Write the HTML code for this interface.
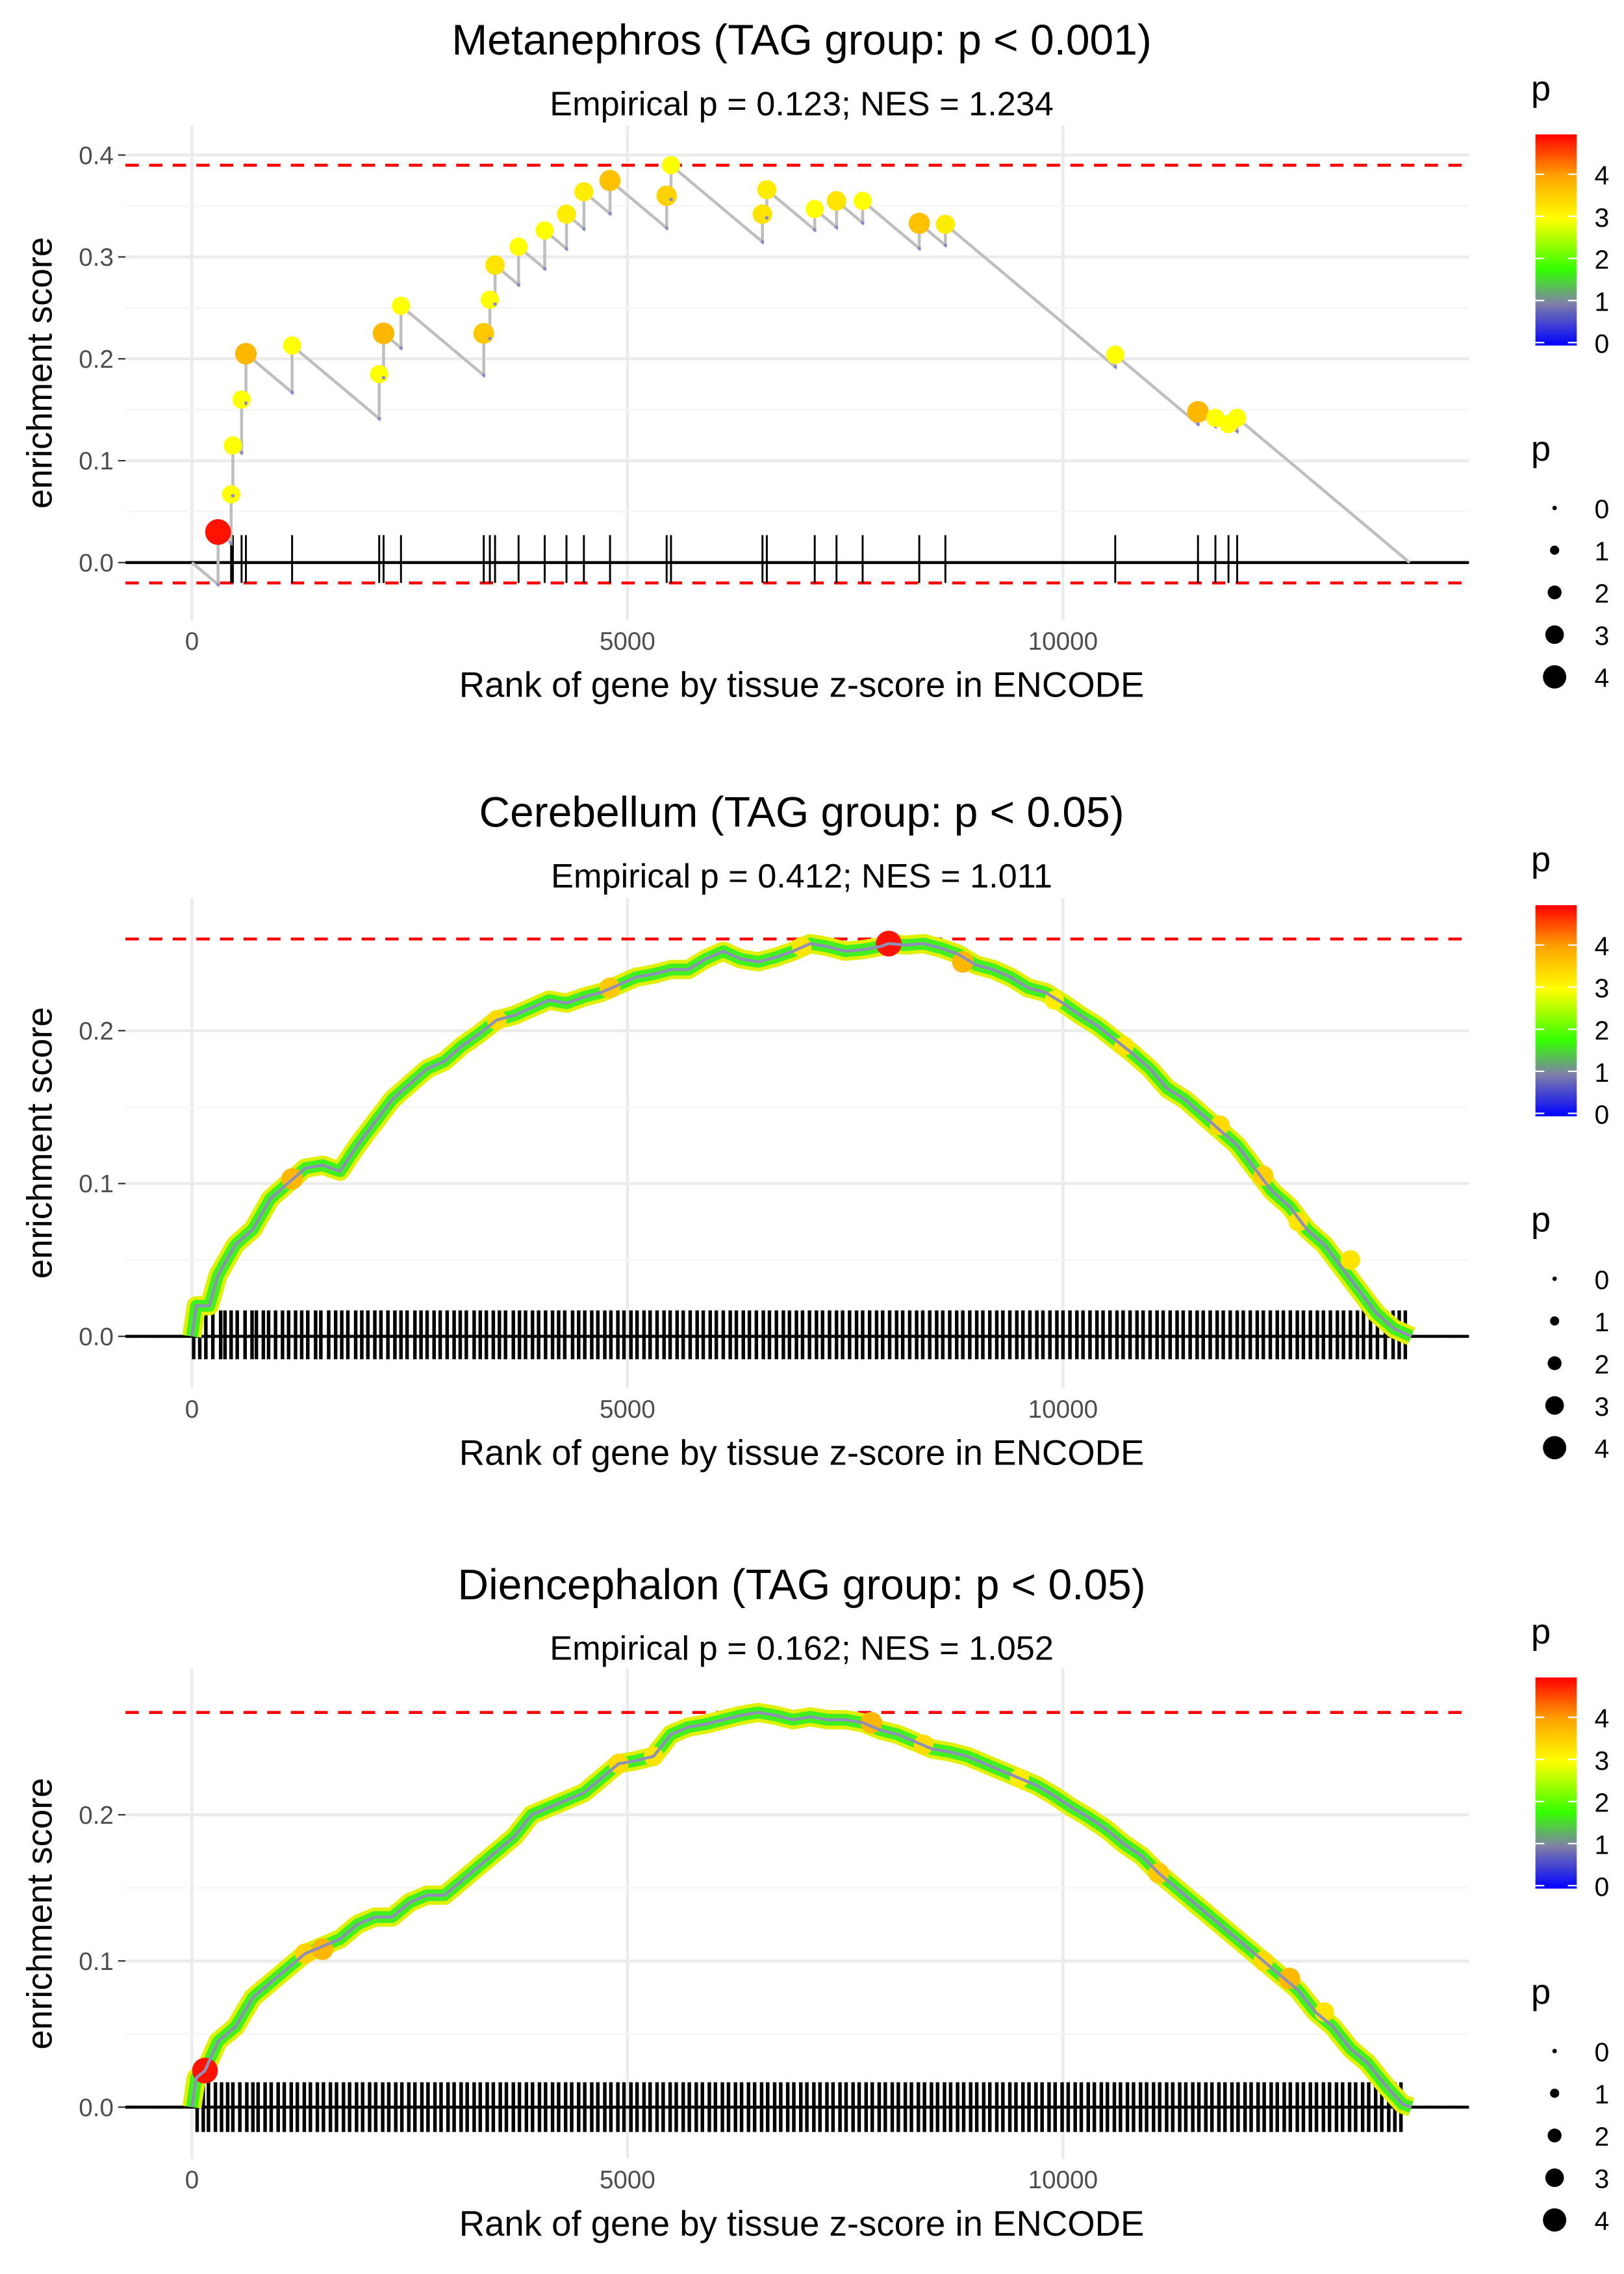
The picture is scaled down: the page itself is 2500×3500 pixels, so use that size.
<!DOCTYPE html>
<html><head><meta charset="utf-8"><style>
html,body{margin:0;padding:0;background:#fff}
svg{display:block}
text{font-family:"Liberation Sans",sans-serif}
</style></head><body>
<svg id="chart" width="2500" height="3500" viewBox="0 0 1100 1540" xmlns="http://www.w3.org/2000/svg">
<defs>
<linearGradient id="pgrad" x1="0" y1="1" x2="0" y2="0">
<stop offset="0" stop-color="#0000ff"/><stop offset="0.2" stop-color="#8080a8"/><stop offset="0.36" stop-color="#33ff00"/><stop offset="0.6" stop-color="#ffff00"/><stop offset="0.8" stop-color="#ffa500"/><stop offset="1" stop-color="#ff0000"/>
</linearGradient>
</defs>
</svg>
<script>
// Panel 1 data: hit ranks, ES after hit, p value
const p1Ranks=[300,450,470,570,620,1150,2150,2200,2400,3350,3420,3480,3750,4050,4300,4500,4800,5450,5500,6550,6600,7150,7400,7700,8350,8650,10600,11550,11750,11900,12000];
const p1ES=[0.03,0.067,0.115,0.16,0.205,0.213,0.185,0.225,0.252,0.225,0.258,0.292,0.31,0.326,0.342,0.364,0.375,0.36,0.39,0.342,0.366,0.347,0.355,0.355,0.333,0.332,0.204,0.148,0.142,0.136,0.142];
const p1P=[4.8,3,3,3,3.8,3,3,3.8,3,3.6,3,3.3,3,3,3.2,3.2,3.7,3.5,3,3.3,3.2,3,3.3,3,3.7,3.2,3,3.8,3,3,3];
const p1End=13980;
// Panel 2 curve
const p2Ranks=[0,50,200,300,500,700,900,1100,1300,1500,1700,1900,2100,2300,2500,2700,2900,3100,3300,3500,3700,3900,4100,4300,4500,4700,4900,5100,5300,5500,5700,5900,6100,6300,6500,6700,6900,7100,7300,7500,7700,7900,8000,8200,8400,8600,8800,9000,9200,9400,9600,9800,10000,10200,10400,10600,10800,11000,11200,11400,11600,11800,12000,12200,12400,12600,12800,13000,13200,13400,13600,13800,14000];
const p2ES=[0,0.02,0.02,0.04,0.06,0.07,0.09,0.1,0.11,0.112,0.108,0.125,0.14,0.155,0.165,0.175,0.18,0.19,0.198,0.207,0.21,0.215,0.22,0.218,0.222,0.225,0.23,0.235,0.237,0.24,0.24,0.247,0.252,0.247,0.245,0.248,0.252,0.257,0.255,0.252,0.253,0.255,0.257,0.256,0.257,0.254,0.25,0.243,0.24,0.235,0.228,0.225,0.218,0.21,0.203,0.194,0.185,0.175,0.162,0.155,0.145,0.135,0.125,0.11,0.095,0.085,0.07,0.06,0.045,0.03,0.015,0.005,0];
const p2HiRanks=[1150,3500,4800,7000,8000,8850,9900,10700,11800,12300,12700,13300];
const p2HiES=[0.103,0.207,0.228,0.255,0.257,0.245,0.22,0.19,0.138,0.105,0.075,0.05];
const p2HiP=[3.8,3.4,3.6,3.3,4.8,3.8,3.2,3.3,3.4,3.5,3.3,3.3];
const p2Ticks=[20,90,160,240,330,380,450,520,610,690,740,820,880,960,1040,1110,1190,1260,1330,1420,1480,1570,1650,1720,1790,1880,1950,2020,2100,2170,2250,2330,2400,2470,2560,2630,2700,2780,2850,2930,3010,3080,3150,3240,3310,3380,3460,3530,3600,3690,3760,3830,3910,3980,4060,4140,4210,4280,4370,4440,4510,4590,4660,4740,4810,4890,4960,5040,5110,5190,5260,5340,5420,5490,5570,5640,5720,5800,5870,5950,6020,6100,6180,6250,6330,6400,6480,6560,6630,6710,6790,6860,6940,7010,7090,7170,7240,7320,7400,7470,7550,7630,7700,7780,7860,7930,8010,8090,8160,8240,8320,8390,8470,8550,8620,8700,8780,8850,8930,9010,9080,9160,9240,9310,9390,9470,9540,9620,9700,9770,9850,9930,10000,10080,10160,10230,10310,10390,10460,10540,10620,10690,10770,10850,10920,11000,11080,11150,11230,11310,11380,11460,11540,11610,11690,11770,11840,11920,12000,12070,12150,12230,12300,12380,12460,12530,12610,12690,12760,12840,12920,12990,13070,13150,13220,13300,13380,13450,13530,13610,13700,13790,13860,13930];
// Panel 3 curve
const p3Ranks=[0,50,150,300,500,700,900,1100,1300,1500,1700,1900,2100,2300,2500,2700,2900,3100,3300,3500,3700,3900,4100,4300,4500,4700,4900,5100,5300,5500,5700,5900,6100,6300,6500,6700,6900,7100,7300,7500,7700,7900,8100,8300,8500,8700,8900,9100,9300,9500,9700,9900,10100,10300,10500,10700,10900,11100,11300,11500,11700,11900,12100,12300,12500,12700,12900,13100,13300,13500,13700,13900,14000];
const p3ES=[0,0.02,0.025,0.045,0.055,0.075,0.085,0.095,0.105,0.11,0.115,0.125,0.13,0.13,0.14,0.145,0.145,0.155,0.165,0.175,0.185,0.2,0.205,0.21,0.215,0.225,0.235,0.237,0.24,0.255,0.26,0.262,0.265,0.268,0.27,0.268,0.265,0.267,0.265,0.265,0.263,0.258,0.255,0.25,0.245,0.243,0.24,0.235,0.23,0.225,0.22,0.213,0.205,0.198,0.19,0.18,0.172,0.16,0.15,0.14,0.13,0.12,0.11,0.1,0.09,0.08,0.065,0.055,0.04,0.03,0.015,0.002,0];
const p3HiRanks=[150,1300,1500,4900,5300,7800,8400,9500,11100,12300,12600,13000];
const p3HiES=[0.025,0.105,0.108,0.235,0.24,0.263,0.248,0.225,0.16,0.1,0.088,0.065];
const p3HiP=[4.8,3.5,3.8,3.4,3.3,3.8,3.4,3.2,3.6,3.4,3.8,3.3];
const p3Ticks=[60,130,190,270,340,410,470,550,630,700,760,840,910,990,1060,1140,1210,1290,1360,1440,1510,1590,1660,1740,1810,1890,1960,2040,2110,2190,2260,2340,2410,2490,2560,2640,2710,2790,2860,2940,3010,3090,3160,3240,3310,3390,3460,3540,3610,3690,3760,3840,3910,3990,4060,4140,4210,4290,4360,4440,4510,4590,4660,4740,4810,4890,4960,5040,5110,5190,5260,5340,5410,5490,5560,5640,5710,5790,5860,5940,6010,6090,6160,6240,6310,6390,6460,6540,6610,6690,6760,6840,6910,6990,7060,7140,7210,7290,7360,7440,7510,7590,7660,7740,7810,7890,7960,8040,8110,8190,8260,8340,8410,8490,8560,8640,8710,8790,8860,8940,9010,9090,9160,9240,9310,9390,9460,9540,9610,9690,9760,9840,9910,9990,10060,10140,10210,10290,10360,10440,10510,10590,10660,10740,10810,10890,10960,11040,11110,11190,11260,11340,11410,11490,11560,11640,11710,11790,11860,11940,12010,12090,12160,12240,12310,12390,12460,12540,12610,12690,12760,12840,12910,12990,13060,13140,13210,13290,13360,13440,13510,13590,13660,13740,13810,13880];
const xTicks=[0,5000,10000];

const NS="http://www.w3.org/2000/svg";
const svg=document.getElementById('chart');
function mk(tag,attrs,parent){const e=document.createElementNS(NS,tag);for(const k in attrs)e.setAttribute(k,attrs[k]);(parent||svg).appendChild(e);return e;}
function txt(s,attrs,parent){const e=mk('text',attrs,parent);e.textContent=s;return e;}
const stops=[[0,[0,0,255]],[1,[128,128,168]],[1.8,[51,255,0]],[3,[255,255,0]],[4,[255,165,0]],[4.9,[255,0,0]]];
function pcol(p){for(let i=1;i<stops.length;i++){if(p<=stops[i][0]||i==stops.length-1){const a=stops[i-1],b=stops[i];let t=(p-a[0])/(b[0]-a[0]);t=Math.max(0,Math.min(1,t));const c=a[1].map((v,j)=>Math.round(v+(b[1][j]-v)*t));return 'rgb('+c.join(',')+')';}}}
function psize(p){return 2+p*1.4;}
const xs=r=>130+r*0.059;

function panel(o){
  const g=mk('g',{});
  
  
  const off=o.off;
  const ys=v=>o.y0-v*o.k;
  for(const v of o.yTicks){const l=mk('line',{x1:85,x2:995,y1:ys(v),y2:ys(v),stroke:'#ebebeb','stroke-width':2},g);}
  for(const r of xTicks){const l=mk('line',{x1:xs(r),x2:xs(r),y1:o.top,y2:o.bot,stroke:'#ebebeb','stroke-width':2},g);}
  for(let i=0;i<o.yTicks.length-1;i++){const v=(o.yTicks[i]+o.yTicks[i+1])/2;const l=mk('line',{x1:85,x2:995,y1:ys(v),y2:ys(v),stroke:'#f5f5f5','stroke-width':1},g);}
  let t=txt(o.title,{x:543,y:off+37,'font-size':29,'text-anchor':'middle'},g);
  t=txt(o.sub,{x:543,y:off+78,'font-size':23,'text-anchor':'middle'},g);
  for(const v of o.yTicks){const tt=txt(v.toFixed(1),{x:77,y:ys(v)+6,'font-size':17,'text-anchor':'end',fill:'#4d4d4d'},g);
    const tk=mk('line',{x1:80,x2:85,y1:ys(v),y2:ys(v),stroke:'#333','stroke-width':1},g);}
  for(const r of xTicks){const tt=txt(String(r),{x:xs(r),y:o.bot+20,'font-size':17,'text-anchor':'middle',fill:'#4d4d4d'},g);}
  t=txt('Rank of gene by tissue z-score in ENCODE',{x:543,y:o.bot+52,'font-size':24,'text-anchor':'middle'},g);
  t=txt('enrichment score',{x:35,y:(o.top+o.bot)/2,'font-size':24,'text-anchor':'middle',transform:'rotate(-90 35 '+((o.top+o.bot)/2)+')'},g);
  for(const v of o.dash){const l=mk('line',{x1:85,x2:995,y1:ys(v),y2:ys(v),stroke:'#ff0000','stroke-width':2,'stroke-dasharray':'9,7'},g);}
  for(const r of o.ticks){const l=mk('line',{x1:xs(r),x2:xs(r),y1:ys(o.tickTop),y2:ys(o.tickBot),stroke:'#000','stroke-width':o.tickW},g);}
  const z=mk('line',{x1:85,x2:995,y1:ys(0),y2:ys(0),stroke:'#000','stroke-width':2},g);
  o.draw(g,ys);
  const lo=o.legOff;
  t=txt('p',{x:1037,y:lo,'font-size':24},g);
  const cb=mk('rect',{x:1040,y:lo+23,width:28,height:143,fill:'url(#pgrad)'},g);
  for(let i=0;i<=4;i++){const y=lo+164-i*28.5;
    mk('line',{x1:1040,x2:1046,y1:y,y2:y,stroke:'#fff','stroke-width':1},g);mk('line',{x1:1062,x2:1068,y1:y,y2:y,stroke:'#fff','stroke-width':1},g);
    const tt=txt(String(i),{x:1080,y:y+7,'font-size':18},g);}
  t=txt('p',{x:1037,y:lo+244,'font-size':24},g);
  for(let i=0;i<=4;i++){const y=lo+276+i*28.6;
    const c=mk('circle',{cx:1053,cy:y,r:1.5+i*1.6,fill:'#000'},g);
    const tt=txt(String(i),{x:1080,y:y+7,'font-size':18},g);}
}

panel({name:'panel-metanephros',off:0,y0:381,k:690,top:85,bot:420,yTicks:[0,0.1,0.2,0.3,0.4],dash:[0.39,-0.02],
 title:'Metanephros (TAG group: p < 0.001)',sub:'Empirical p = 0.123; NES = 1.234',ticks:p1Ranks,tickTop:0.027,tickBot:-0.02,tickW:1.3,legOff:68,
 draw:(g,ys)=>{
  const slope=p1ES[p1ES.length-1]/(p1End-p1Ranks[p1Ranks.length-1]);
  let pts=[[xs(0),ys(0)]];let prev=0,prevR=0;const pre=[];
  for(let i=0;i<p1Ranks.length;i++){const b=prev-slope*(p1Ranks[i]-prevR);pre.push(b);pts.push([xs(p1Ranks[i]),ys(b)]);pts.push([xs(p1Ranks[i]),ys(p1ES[i])]);prev=p1ES[i];prevR=p1Ranks[i];}
  pts.push([xs(p1End),ys(0)]);
  const pl=mk('polyline',{points:pts.map(p=>p.join(',')).join(' '),fill:'none',stroke:'#bebebe','stroke-width':2},g);
  for(let i=0;i<p1Ranks.length;i++){
    const d=mk('circle',{cx:xs(p1Ranks[i]),cy:ys(pre[i]),r:1.2,fill:'#8888cc'},g);
    const c=mk('circle',{cx:xs(p1Ranks[i]),cy:ys(p1ES[i]),r:psize(p1P[i]),fill:pcol(p1P[i])},g);}
 }});

function curveDraw(R,E,HR,HE,HP){return (g,ys)=>{
  const pts=R.map((r,i)=>xs(r)+','+ys(E[i])).join(' ');
  let l=mk('polyline',{points:pts,fill:'none',stroke:'#e0f000','stroke-width':13,'stroke-linejoin':'round'},g);
  l=mk('polyline',{points:pts,fill:'none',stroke:'#40f020','stroke-width':8,'stroke-linejoin':'round'},g);
  for(let i=0;i<HR.length;i++){const c=mk('circle',{cx:xs(HR[i]),cy:ys(HE[i]),r:psize(HP[i]),fill:pcol(HP[i])},g);}
  l=mk('polyline',{points:pts,fill:'none',stroke:'#8f8fb8','stroke-width':2,'stroke-linejoin':'round'},g);
};}
panel({name:'panel-cerebellum',off:523,y0:905,k:1035,top:608,bot:940,yTicks:[0,0.1,0.2],dash:[0.26,0],
 title:'Cerebellum (TAG group: p < 0.05)',sub:'Empirical p = 0.412; NES = 1.011',ticks:p2Ticks,tickTop:0.017,tickBot:-0.015,tickW:2.4,legOff:590,
 draw:curveDraw(p2Ranks,p2ES,p2HiRanks,p2HiES,p2HiP)});
panel({name:'panel-diencephalon',off:1046,y0:1427,k:990,top:1130,bot:1462,yTicks:[0,0.1,0.2],dash:[0.27,0],
 title:'Diencephalon (TAG group: p < 0.05)',sub:'Empirical p = 0.162; NES = 1.052',ticks:p3Ticks,tickTop:0.017,tickBot:-0.017,tickW:2.4,legOff:1113,
 draw:curveDraw(p3Ranks,p3ES,p3HiRanks,p3HiES,p3HiP)});
</script>
</body></html>
